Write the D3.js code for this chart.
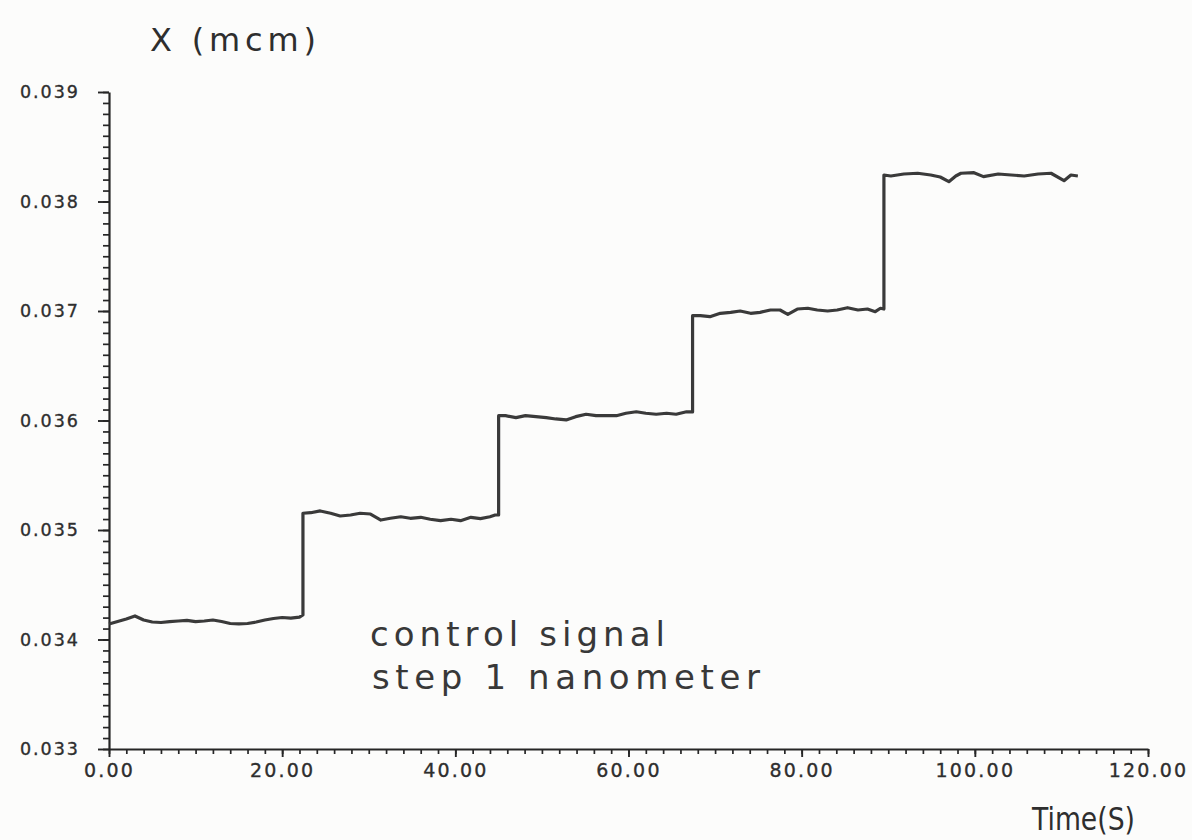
<!DOCTYPE html>
<html>
<head>
<meta charset="utf-8">
<script src="https://cdn.jsdelivr.net/npm/d3@7"></script>
<style>
  html, body { margin: 0; padding: 0; background: #fcfcfb; }
  svg { display: block; }
  text { font-family: "DejaVu Sans", "Liberation Sans", sans-serif; fill: #2e2e2e; }
</style>
</head>
<body>
<svg id="chart" width="1192" height="840"></svg>
<script>
// ---- data (time in s, position X in mcm) ----
const timeS = [
  0, 1, 2, 3, 4, 5, 6, 7, 8, 9, 10, 11, 12, 13, 14, 15, 16, 17, 18, 19, 20, 21, 22, 22.4,
  22.4, 23.3, 24.4, 25.6, 26.7, 27.9, 29.0, 30.2, 31.4, 32.5, 33.7, 34.8, 36.0, 37.1, 38.3, 39.5, 40.6, 41.8, 42.9, 44.0, 44.6, 45.0,
  45.0, 45.8, 47.0, 48.1, 49.3, 50.5, 51.6, 52.8, 53.9, 55.1, 56.25, 57.4, 58.6, 59.7, 60.9, 62.0, 63.2, 64.4, 65.5, 66.7, 67.4,
  67.4, 68.3, 69.4, 70.6, 71.8, 72.9, 74.1, 75.2, 76.4, 77.5, 78.4, 79.5, 80.7, 81.8, 83.0, 84.1, 85.3, 86.5, 87.6, 88.5, 89.1, 89.5,
  89.5, 90.3, 91.8, 93.4, 94.9, 96.0, 97.0, 97.8, 98.4, 99.9, 101.0, 102.7, 104.2, 105.7, 107.3, 108.8, 110.3, 111.1, 111.9
];
const positionX = [
  0.034142, 0.034164, 0.034187, 0.034215, 0.034178, 0.034160, 0.034155, 0.034164, 0.034169, 0.034174, 0.034164, 0.034169,
  0.034178, 0.034164, 0.034146, 0.034142, 0.034146, 0.034160, 0.034178, 0.034192, 0.034201, 0.034196, 0.034205, 0.034224,
  0.035153, 0.035158, 0.035174, 0.035153, 0.035128, 0.035137, 0.035153, 0.035146, 0.035091, 0.035107, 0.035121, 0.035107,
  0.035116, 0.035098, 0.035085, 0.035098, 0.035085, 0.035116, 0.035104, 0.035121, 0.035137, 0.035137,
  0.036044, 0.036044, 0.036026, 0.036044, 0.036035, 0.036026, 0.036014, 0.036005, 0.036035, 0.036057, 0.036044, 0.036044,
  0.036044, 0.036066, 0.036080, 0.036066, 0.036057, 0.036066, 0.036057, 0.036080, 0.036078,
  0.036957, 0.036957, 0.036948, 0.036979, 0.036988, 0.037000, 0.036979, 0.036988, 0.037009, 0.037009, 0.036970, 0.037018,
  0.037025, 0.037009, 0.037000, 0.037009, 0.037030, 0.037009, 0.037018, 0.036994, 0.037025, 0.037018,
  0.038242, 0.038233, 0.038251, 0.038258, 0.038242, 0.038224, 0.038181, 0.038233, 0.038258, 0.038263, 0.038227, 0.038251,
  0.038242, 0.038233, 0.038251, 0.038258, 0.038190, 0.038242, 0.038233
];
const xMajorTicks = [0, 20, 40, 60, 80, 100, 120];
const xTickLabels = ["0.00", "20.00", "40.00", "60.00", "80.00", "100.00", "120.00"];
const yMajorTicks = [0.033, 0.034, 0.035, 0.036, 0.037, 0.038, 0.039];
const yTickLabels = ["0.033", "0.034", "0.035", "0.036", "0.037", "0.038", "0.039"];
const yTitle = "X (mcm)";
const xTitle = "Time(S)";
const noteLines = ["control signal", "step 1 nanometer"];

// ---- layout ----
const svg = d3.select("#chart");
const margin = { left: 109, right: 44, top: 92, bottom: 91 };
const W = 1192, H = 840;
const x = d3.scaleLinear().domain([0, 120]).range([margin.left, W - margin.right]);
const y = d3.scaleLinear().domain([0.033, 0.039]).range([H - margin.bottom, margin.top]);

const ink = "#262626";

// minor ticks
const xMinor = d3.range(0, 120.001, 2);
const yMinor = d3.range(0, 61).map(i => 0.033 + i * 0.0001);

svg.append("g")
  .attr("transform", `translate(0,${y(0.033)})`)
  .call(d3.axisBottom(x).tickValues(xMinor).tickSize(5).tickSizeOuter(0).tickFormat(""))
  .call(g => g.select(".domain").remove())
  .call(g => g.selectAll("line").attr("stroke", ink).attr("stroke-width", 1.7));

svg.append("g")
  .attr("transform", `translate(${x(0)},0)`)
  .call(d3.axisLeft(y).tickValues(yMinor).tickSize(6).tickSizeOuter(0).tickFormat(""))
  .call(g => g.select(".domain").remove())
  .call(g => g.selectAll("line").attr("stroke", ink).attr("stroke-width", 1.7));

// major axes
const xAxis = svg.append("g")
  .attr("transform", `translate(0,${y(0.033)})`)
  .call(d3.axisBottom(x).tickValues(xMajorTicks).tickSize(8).tickSizeOuter(0).tickPadding(7)
    .tickFormat((d, i) => xTickLabels[i]));
xAxis.select(".domain").attr("stroke", ink).attr("stroke-width", 2.2);
xAxis.selectAll("line").attr("stroke", ink).attr("stroke-width", 1.9);
xAxis.selectAll("text")
  .style("font-size", "19px").attr("letter-spacing", 2.2)
  .attr("stroke", "#2e2e2e").attr("stroke-width", 0.35);

const yAxis = svg.append("g")
  .attr("transform", `translate(${x(0)},0)`)
  .call(d3.axisLeft(y).tickValues(yMajorTicks).tickSize(11).tickSizeOuter(0).tickPadding(18)
    .tickFormat((d, i) => yTickLabels[i]));
yAxis.select(".domain").attr("stroke", ink).attr("stroke-width", 2.2);
yAxis.selectAll("line").attr("stroke", ink).attr("stroke-width", 1.9);
yAxis.selectAll("text")
  .style("font-size", "17.5px").attr("letter-spacing", 2)
  .attr("stroke", "#2e2e2e").attr("stroke-width", 0.35);

// data line
const pts = timeS.map((t, i) => [t, positionX[i]]);
svg.append("path")
  .datum(pts)
  .attr("fill", "none")
  .attr("stroke", "#3a3a3a")
  .attr("stroke-width", 3.2)
  .attr("stroke-linejoin", "round")
  .attr("d", d3.line().x(d => x(d[0])).y(d => y(d[1])));

// titles
svg.append("text")
  .attr("x", 150).attr("y", 51)
  .style("font-size", "32px")
  .attr("textLength", 166).attr("lengthAdjust", "spacing")
  .text(yTitle);

svg.append("text")
  .attr("x", 1032).attr("y", 830)
  .style("font-size", "32px")
  .attr("textLength", 103).attr("lengthAdjust", "spacingAndGlyphs")
  .text(xTitle);

// annotation
svg.append("text")
  .attr("x", 370).attr("y", 646)
  .style("font-size", "34px").style("fill", "#383838")
  .attr("textLength", 295).attr("lengthAdjust", "spacing")
  .text(noteLines[0]);
svg.append("text")
  .attr("x", 372).attr("y", 689)
  .style("font-size", "34px").style("fill", "#383838")
  .attr("textLength", 388).attr("lengthAdjust", "spacing")
  .text(noteLines[1]);
</script>
</body>
</html>
